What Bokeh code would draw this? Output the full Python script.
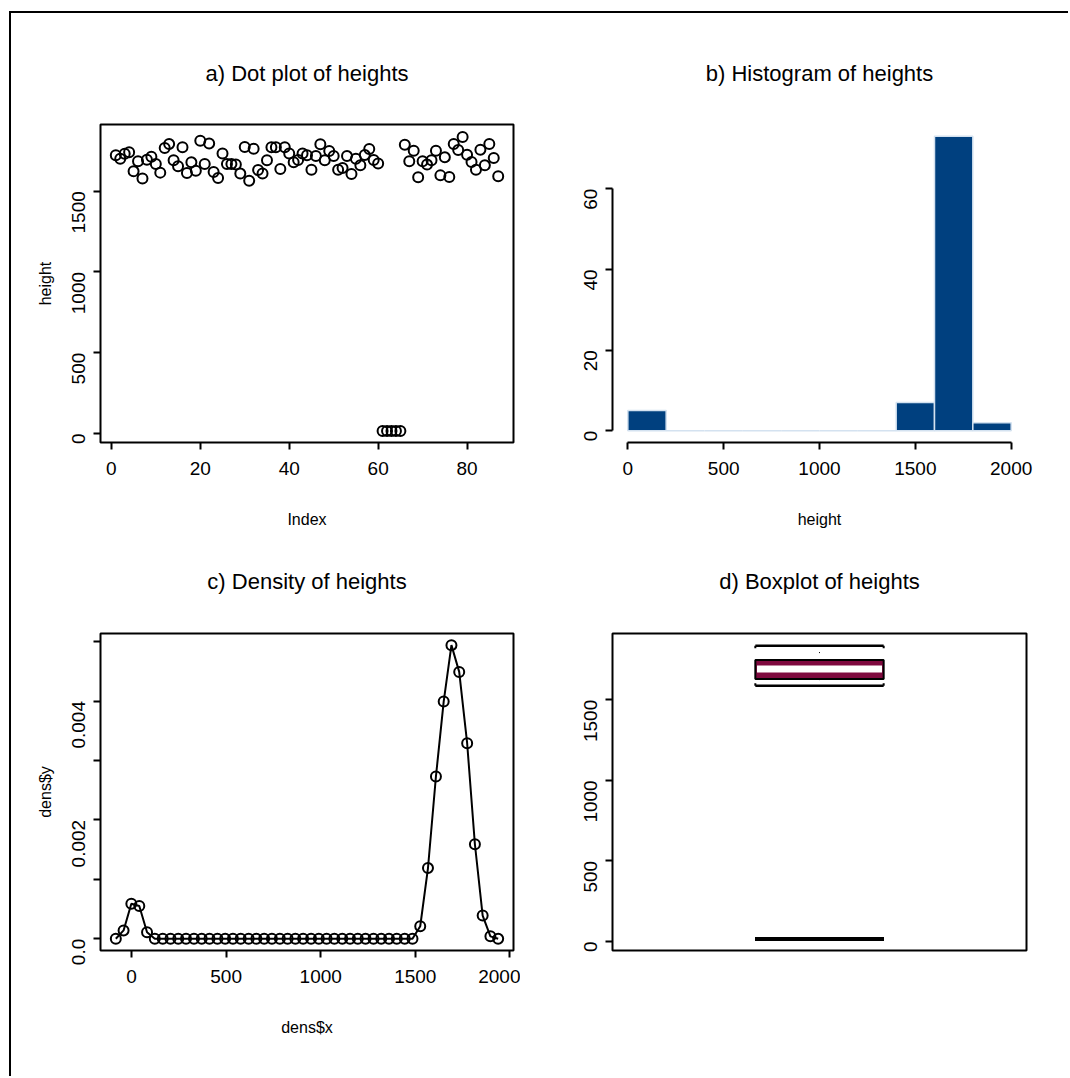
import math
from bokeh.plotting import figure
from bokeh.layouts import column, row
from bokeh.models import FixedTicker, Range1d
from bokeh.embed import file_html
from bokeh.resources import INLINE

# ---------------- data ----------------
heights = [1722, 1701, 1732, 1741, 1623, 1685, 1578, 1695, 1714, 1669,
           1615, 1767, 1792, 1691, 1654, 1772, 1613, 1679, 1627, 1813,
           1669, 1796, 1619, 1582, 1734, 1669, 1669, 1665, 1609, 1774,
           1565, 1763, 1631, 1609, 1691, 1772, 1772, 1638, 1772, 1734,
           1679, 1693, 1734, 1722, 1633, 1718, 1790, 1691, 1749, 1718,
           1633, 1644, 1718, 1607, 1701, 1660, 1724, 1761, 1693, 1671,
           15, 15, 15, 15, 15,
           1788, 1685, 1751, 1586, 1685, 1665, 1691, 1751, 1598, 1710,
           1588, 1792, 1755, 1836, 1726, 1681, 1633, 1757, 1660, 1792,
           1706, 1592]
index = list(range(1, len(heights) + 1))

hist_breaks = [0, 200, 400, 600, 800, 1000, 1200, 1400, 1600, 1800, 2000]
hist_counts = [5, 0, 0, 0, 0, 0, 0, 7, 73, 2]

dens_x = [-83, -42, -1, 41, 82, 123, 165, 206, 247, 288,
          330, 371, 412, 454, 495, 536, 577, 619, 660, 701,
          742, 784, 825, 866, 907, 949, 990, 1031, 1072, 1114,
          1155, 1196, 1237, 1279, 1320, 1361, 1402, 1444, 1485, 1526,
          1567, 1609, 1650, 1691, 1732, 1774, 1815, 1856, 1897, 1938]
dens_y = [0.0, 0.00014, 0.00059, 0.00055, 0.00011, 0.0, 0.0, 0.0, 0.0, 0.0,
          0.0, 0.0, 0.0, 0.0, 0.0, 0.0, 0.0, 0.0, 0.0, 0.0,
          0.0, 0.0, 0.0, 0.0, 0.0, 0.0, 0.0, 0.0, 0.0, 0.0,
          0.0, 0.0, 0.0, 0.0, 0.0, 0.0, 0.0, 0.0, 0.0, 0.00021,
          0.00119, 0.00273, 0.00399, 0.00494, 0.00449, 0.00329, 0.00159, 0.00039, 0.00004, 0.0]

# lower whisker, Q1, median, Q3, upper whisker
box_stats = [1587, 1628, 1690, 1746, 1835]
box_outliers = [15, 15, 15, 15, 15]

a_xticks = [0, 20, 40, 60, 80]
height_ticks = [0, 500, 1000, 1500]
hist_xticks = [0, 500, 1000, 1500, 2000]
hist_yticks = [0, 20, 40, 60]
dens_xticks = [0, 500, 1000, 1500, 2000]
dens_yticks = [0.0, 0.002, 0.004]
dens_yminor = [0.001, 0.003, 0.005]

# ---------------- style ----------------
FONT = "Liberation Sans"
TITLE_SIZE = "22px"
TICK_SIZE = "19px"
LABEL_SIZE = "16px"
HIST_FILL = "#00407f"
HIST_EDGE = "#d4e2f0"
BOX_FILL = "#7f0a3f"


def make_fig(title, w, h, bl, br, bt, bb, xr, yr, standoff):
    p = figure(width=w, height=h, min_border_left=bl, min_border_right=br,
               min_border_top=bt, min_border_bottom=bb,
               x_range=Range1d(*xr), y_range=Range1d(*yr),
               output_backend="svg", toolbar_location=None,
               background_fill_color="white", border_fill_color=None)
    p.title.text = title
    p.title.align = "center"
    p.title.text_font = FONT
    p.title.text_font_size = TITLE_SIZE
    p.title.text_font_style = "normal"
    p.title.text_color = "black"
    p.title.standoff = standoff
    p.grid.visible = False
    p.outline_line_color = "black"
    p.outline_line_width = 2
    for ax in (p.xaxis[0], p.yaxis[0]):
        ax.axis_line_color = None
        ax.major_tick_line_color = "black"
        ax.major_tick_line_width = 2
        ax.major_tick_out = 7
        ax.major_tick_in = 0
        ax.minor_tick_line_color = None
        ax.major_label_text_font = FONT
        ax.major_label_text_font_size = TICK_SIZE
        ax.major_label_text_color = "black"
        ax.axis_label_text_font = FONT
        ax.axis_label_text_font_size = LABEL_SIZE
        ax.axis_label_text_font_style = "normal"
        ax.axis_label_text_color = "black"
    p.xaxis.major_label_standoff = 12
    p.xaxis.axis_label_standoff = 33
    p.yaxis.major_label_orientation = math.pi / 2
    p.yaxis.major_label_standoff = 15
    p.yaxis.axis_label_standoff = 9
    return p


# ---------- a) dot plot ----------
pa = make_fig("a) Dot plot of heights", 509, 517, 89, 7, 111, 88,
              (-2.44, 90.44), (-56, 1913), 78)
pa.scatter(index, heights, size=10, marker="circle", fill_color=None,
           line_color="black", line_width=2)
pa.xaxis.ticker = FixedTicker(ticks=a_xticks)
pa.yaxis.ticker = FixedTicker(ticks=height_ticks)
pa.xaxis.axis_label = "Index"
pa.yaxis.axis_label = "height"

# ---------- b) histogram ----------
pb = make_fig("b) Histogram of heights", 548, 517, 92, 42, 111, 88,
              (-80, 2080), (-2.92, 75.92), 78)
pb.outline_line_color = None
pb.quad(left=hist_breaks[:-1], right=hist_breaks[1:], bottom=0, top=hist_counts,
        fill_color=HIST_FILL, line_color=HIST_EDGE, line_width=1.5)
pb.xaxis.ticker = FixedTicker(ticks=hist_xticks)
pb.yaxis.ticker = FixedTicker(ticks=hist_yticks)
pb.xaxis.bounds = (hist_xticks[0], hist_xticks[-1])
pb.yaxis.bounds = (hist_yticks[0], hist_yticks[-1])
for ax in (pb.xaxis[0], pb.yaxis[0]):
    ax.axis_line_color = "black"
    ax.axis_line_width = 2
pb.xaxis.axis_label = "height"

# ---------- c) density ----------
pc = make_fig("c) Density of heights", 509, 550, 89, 7, 107, 126,
              (-164, 2019), (-0.000198, 0.005136), 80)
pc.line(dens_x, dens_y, line_color="black", line_width=2)
pc.scatter(dens_x, dens_y, size=10, marker="circle", fill_color=None,
           line_color="black", line_width=2)
pc.xaxis.ticker = FixedTicker(ticks=dens_xticks)
pc.yaxis.ticker = FixedTicker(ticks=dens_yticks, minor_ticks=dens_yminor)
pc.yaxis.minor_tick_line_color = "black"
pc.yaxis.minor_tick_line_width = 2
pc.yaxis.minor_tick_out = 7
pc.yaxis.minor_tick_in = 0
pc.yaxis.major_label_overrides = {0: "0.0"}
pc.xaxis.axis_label = "dens$x"
pc.yaxis.axis_label = "dens$y"

# ---------- d) boxplot ----------
BOX_C = 1.0
BOX_HW = 0.155
HOOK = 15
pd_ = make_fig("d) Boxplot of heights", 548, 550, 92, 42, 107, 126,
               (0.5, 1.5), (-56, 1911), 80)
pd_.xaxis.visible = False
lw, q1, med, q3, uw = box_stats
# whiskers (dotted, thin)
pd_.segment(x0=[BOX_C, BOX_C], y0=[q3, q1], x1=[BOX_C, BOX_C], y1=[uw, lw],
            line_color="black", line_width=1, line_dash="1 6")
# staples with small bracket ends
pd_.segment(x0=[BOX_C - BOX_HW] * 2, y0=[uw, lw], x1=[BOX_C + BOX_HW] * 2, y1=[uw, lw],
            line_color="black", line_width=2.5)
pd_.segment(x0=[BOX_C - BOX_HW, BOX_C + BOX_HW, BOX_C - BOX_HW, BOX_C + BOX_HW],
            y0=[uw, uw, lw, lw],
            x1=[BOX_C - BOX_HW, BOX_C + BOX_HW, BOX_C - BOX_HW, BOX_C + BOX_HW],
            y1=[uw - HOOK, uw - HOOK, lw + HOOK, lw + HOOK],
            line_color="black", line_width=2)
# box
pd_.quad(left=[BOX_C - BOX_HW], right=[BOX_C + BOX_HW], bottom=[q1], top=[q3],
         fill_color=BOX_FILL, line_color="black", line_width=2)
# median
pd_.segment(x0=[BOX_C - BOX_HW + 0.004], y0=[med], x1=[BOX_C + BOX_HW - 0.004], y1=[med],
            line_color="white", line_width=7)
# outliers
pd_.segment(x0=[BOX_C - BOX_HW] * len(box_outliers), y0=box_outliers,
            x1=[BOX_C + BOX_HW] * len(box_outliers), y1=box_outliers,
            line_color="black", line_width=4)
pd_.yaxis.ticker = FixedTicker(ticks=height_ticks)

layout = column(
    row(pa, pb, spacing=0),
    row(pc, pd_, spacing=0, styles={"margin-top": "-4px"}),
    spacing=0,
    styles={"border-left": "2px solid black", "border-top": "2px solid black",
            "margin-left": "9px", "margin-top": "11px", "background": "white"},
)

open("out.html", "w").write(file_html(layout, INLINE))
